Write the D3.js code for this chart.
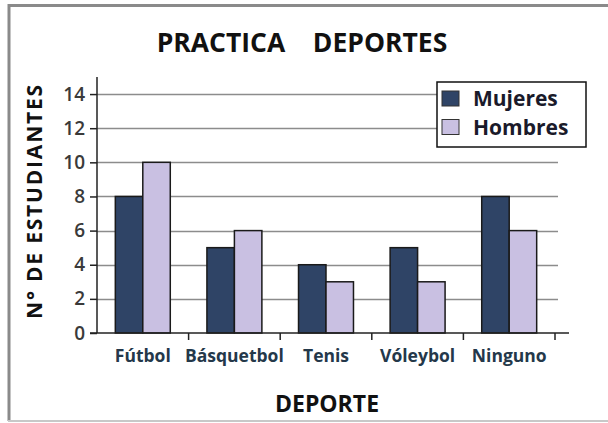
<!DOCTYPE html>
<html>
<head>
<meta charset="utf-8">
<script src="https://cdn.jsdelivr.net/npm/d3@7"></script>
<style>
	body { margin: 0; background: #fff; }
	svg { display: block; font-family: 'Open Sans', 'Noto Sans', sans-serif; }
</style>
</head>
<body>
<svg id="chart"></svg>
<script>
var categories = ['Fútbol', 'Básquetbol', 'Tenis', 'Vóleybol', 'Ninguno'],
	series = ['Mujeres', 'Hombres'],
	mujeres = [8, 5, 4, 5, 8],
	hombres = [10, 6, 3, 3, 6],
	yTicks = [0, 2, 4, 6, 8, 10, 12, 14],
	colors = ['#2f4466', '#c9c0e2'];

window.onload = function init() {
	'use strict';

	var width = 608,
		height = 423,
		svg = d3.select('svg#chart').attr('width', width).attr('height', height),
		plotLeft = 97, plotRight = 555, plotTop = 77, plotBottom = 333;

	// outer frame (no right edge visible in the picture)
	svg.append('line').attr('x1', 8).attr('x2', width).attr('y1', 5.5).attr('y2', 5.5)
		.attr('stroke', '#8a8a8a').attr('stroke-width', 3);
	svg.append('line').attr('x1', 9).attr('x2', 9).attr('y1', 4).attr('y2', 421)
		.attr('stroke', '#8a8a8a').attr('stroke-width', 3);
	svg.append('line').attr('x1', 8).attr('x2', width).attr('y1', 421).attr('y2', 421)
		.attr('stroke', '#c8c8c8').attr('stroke-width', 2);

	var x = d3.scaleBand().domain(categories).range([plotLeft, plotRight]).paddingInner(0.4).paddingOuter(0.2),
		xs = d3.scaleBand().domain(series).range([0, x.bandwidth()]),
		y = d3.scaleLinear().domain([0, 15]).range([plotBottom, plotTop]),
		xo = d3.scaleBand().domain(categories).range([plotLeft, plotRight]);

	// gridlines
	svg.append('g').selectAll('line').data(yTicks.slice(1)).enter()
		.append('line')
		.attr('x1', plotLeft).attr('x2', plotRight + 3)
		.attr('y1', function(d) { return Math.round(y(d)) + 0.5; })
		.attr('y2', function(d) { return Math.round(y(d)) + 0.5; })
		.attr('stroke', '#8c8c8c').attr('stroke-width', 1.5);

	// bars
	var rows = categories.map(function(c, i) { return { cat: c, values: [mujeres[i], hombres[i]] }; });
	var groups = svg.append('g').selectAll('g').data(rows).enter()
		.append('g')
		.attr('transform', function(d) { return 'translate(' + x(d.cat) + ',0)'; });
	groups.selectAll('rect').data(function(d) {
			return d.values.map(function(v, j) { return { s: series[j], v: v, j: j }; });
		}).enter()
		.append('rect')
		.attr('x', function(d) { return xs(d.s); })
		.attr('y', function(d) { return y(d.v); })
		.attr('width', xs.bandwidth())
		.attr('height', function(d) { return y(0) - y(d.v); })
		.attr('fill', function(d) { return colors[d.j]; })
		.attr('stroke', '#1a1a1a').attr('stroke-width', 1.5);

	// y axis
	var yAxis = svg.append('g').attr('transform', 'translate(' + plotLeft + ',0)')
		.call(d3.axisLeft(y).tickValues(yTicks).tickSize(7).tickPadding(5));
	yAxis.attr('font-size', null).attr('font-family', null);
	yAxis.select('.domain').attr('stroke', '#222').attr('stroke-width', 1.5).attr('d', 'M0,' + plotTop + 'V' + plotBottom);
	yAxis.selectAll('.tick line').attr('stroke', '#222').attr('stroke-width', 1.5);
	yAxis.selectAll('text').style('font-size', '19px').attr('font-weight', 600).attr('fill', '#3a3a3a');

	// x axis
	var xAxis = svg.append('g').attr('transform', 'translate(0,' + plotBottom + ')')
		.call(d3.axisBottom(xo).tickSize(0).tickPadding(17));
	xAxis.attr('font-size', null).attr('font-family', null);
	xAxis.select('.domain').attr('stroke', '#222').attr('stroke-width', 1.5).attr('d', 'M' + (plotLeft - 7) + ',0H' + (plotRight + 14));
	xAxis.selectAll('text').style('font-size', '17.5px').attr('font-weight', 700).attr('fill', '#24384a');
	svg.append('g').selectAll('line').data(categories).enter()
		.append('line')
		.attr('x1', function(d) { return xo(d) + xo.bandwidth(); })
		.attr('x2', function(d) { return xo(d) + xo.bandwidth(); })
		.attr('y1', plotBottom).attr('y2', plotBottom + 7)
		.attr('stroke', '#222').attr('stroke-width', 1.5);

	// titles
	svg.append('text').attr('x', 302).attr('y', 52).attr('text-anchor', 'middle')
		.attr('font-size', 26.5).attr('font-weight', 700).attr('fill', '#111')
		.style('white-space', 'pre')
		.text('PRACTICA    DEPORTES');
	svg.append('text').attr('x', (plotLeft + plotRight) / 2 + 1).attr('y', 412).attr('text-anchor', 'middle')
		.attr('font-size', 23).attr('font-weight', 700).attr('fill', '#111')
		.text('DEPORTE');
	svg.append('text').attr('transform', 'translate(42,' + 201 + ') rotate(-90)').attr('text-anchor', 'middle')
		.attr('font-size', 21).attr('font-weight', 700).attr('fill', '#111')
		.attr('letter-spacing', 1.8)
		.text('N° DE ESTUDIANTES');

	// legend
	var legend = svg.append('g').attr('transform', 'translate(437,82)');
	legend.append('rect').attr('width', 149).attr('height', 65)
		.attr('fill', '#fff').attr('stroke', '#111').attr('stroke-width', 1.5);
	var items = legend.selectAll('g').data(series).enter()
		.append('g')
		.attr('transform', function(d, i) { return 'translate(5,' + (9 + i * 28.5) + ')'; });
	items.append('rect').attr('width', 17).attr('height', 15)
		.attr('fill', function(d, i) { return colors[i]; })
		.attr('stroke', '#333').attr('stroke-width', 1);
	items.append('text').attr('x', 31).attr('y', 15)
		.attr('font-size', 21).attr('font-weight', 700).attr('fill', '#1a1a2a')
		.text(function(d) { return d; });
};
</script>
</body>
</html>
